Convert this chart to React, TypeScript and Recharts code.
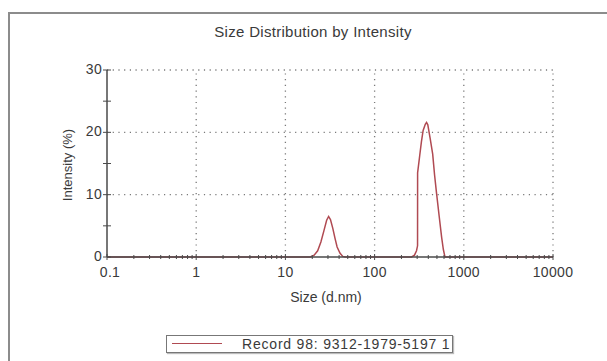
import React from 'react';
import { LineChart, Line, XAxis, YAxis, ReferenceLine } from 'recharts';

const sizes = [0.1, 15, 19, 21, 23, 25, 27, 29, 30.5, 32, 34, 36, 38, 41, 44, 47, 260, 280, 295, 303, 303.5, 320, 335, 350, 370, 382, 395, 420, 448, 470, 495, 530, 564, 590, 615, 10000];
const intensity = [0, 0, 0, 0.3, 1.0, 2.4, 4.2, 5.9, 6.5, 6.0, 4.6, 3.0, 1.6, 0.6, 0.1, 0, 0, 0.3, 1.0, 1.8, 13.5, 16.2, 18.5, 20.3, 21.3, 21.6, 21.2, 19.0, 16.5, 13.2, 10.2, 6.5, 3.2, 1.2, 0, 0];

const xMajorTicks = [0.1, 1, 10, 100, 1000, 10000];
const xMinorTicks = [
  0.2, 0.3, 0.4, 0.5, 0.6, 0.7, 0.8, 0.9,
  2, 3, 4, 5, 6, 7, 8, 9,
  20, 30, 40, 50, 60, 70, 80, 90,
  200, 300, 400, 500, 600, 700, 800, 900,
  2000, 3000, 4000, 5000, 6000, 7000, 8000, 9000,
];
const yMajorTicks = [0, 10, 20, 30];
const yMinorTicks = [5, 15, 25];
const xGrid = [1, 10, 100, 1000, 10000];
const yGrid = [10, 20, 30];

const title = 'Size Distribution by Intensity';
const xLabel = 'Size (d.nm)';
const yLabel = 'Intensity (%)';
const legendLabel = 'Record 98: 9312-1979-5197 1';

const data = sizes.map((s, i) => ({ size: s, value: intensity[i] }));
const allXTicks = [...xMajorTicks, ...xMinorTicks].sort((a, b) => a - b);
const allYTicks = [...yMajorTicks, ...yMinorTicks].sort((a, b) => a - b);

const FONT = '"Liberation Sans", Arial, sans-serif';
const TEXT = '#3a3a3a';
const AXIS = '#4a4a4a';
const LINE = '#b04a52';

const fmtX = (v: number) => (v < 1 ? String(v) : String(Math.round(v)));

const XTick = (props: any) => {
  const { x, y, payload } = props;
  const v = payload.value;
  const major = xMajorTicks.includes(v);
  return (
    <g>
      <line x1={x} x2={x} y1={y - (major ? 3 : 2)} y2={y + (major ? 3 : 2)} stroke={AXIS} strokeWidth={1} />
      {major && (
        <text x={x + (v === 0.1 ? 3 : 0)} y={y + 20} textAnchor="middle" fontSize={14} letterSpacing={0.3} fill={TEXT} fontFamily={FONT}>
          {fmtX(v)}
        </text>
      )}
    </g>
  );
};

const YTick = (props: any) => {
  const { x, y, payload } = props;
  const v = payload.value;
  const major = yMajorTicks.includes(v);
  return (
    <g>
      <line x1={x - 4} x2={x + 4} y1={y} y2={y} stroke={AXIS} strokeWidth={1} />
      {major && (
        <text x={x - 5} y={y + 4} textAnchor="end" fontSize={14} letterSpacing={0.3} fill={TEXT} fontFamily={FONT}>
          {v}
        </text>
      )}
    </g>
  );
};

export default function App() {
  return (
    <div style={{ position: 'absolute', left: 0, top: 0, width: 607, height: 361, background: '#fff', fontFamily: FONT, overflow: 'hidden' }}>
      <div style={{ position: 'absolute', left: 8, top: 12, width: 597, height: 360, borderLeft: '2px solid #8c8c8c', borderTop: '2px solid #8c8c8c', borderRight: '1px solid #e0e0e0' }} />
      <div style={{ position: 'absolute', left: 0, top: 23, width: 626, textAlign: 'center', fontSize: 15, letterSpacing: 0.3, color: TEXT }}>{title}</div>
      <LineChart width={607} height={361} data={data} margin={{ top: 70, right: 54, bottom: 74, left: 67 }} style={{ position: 'absolute', left: 0, top: 0 }}>
        {xGrid.map((g) => (
          <ReferenceLine key={'x' + g} x={g} stroke="#7a7a7a" strokeDasharray="1.2 4.5" strokeWidth={1.3} />
        ))}
        {yGrid.map((g) => (
          <ReferenceLine key={'y' + g} y={g} stroke="#7a7a7a" strokeDasharray="1.2 4.5" strokeWidth={1.3} />
        ))}
        <XAxis
          dataKey="size"
          type="number"
          scale="log"
          domain={[0.1, 10000]}
          allowDataOverflow
          ticks={allXTicks}
          interval={0}
          tickLine={false}
          tickSize={0}
          tickMargin={0}
          tick={<XTick />}
          axisLine={{ stroke: AXIS, strokeWidth: 1.5 }}
          height={30}
        />
        <YAxis
          type="number"
          domain={[0, 30]}
          ticks={allYTicks}
          interval={0}
          tickLine={false}
          tickSize={0}
          tickMargin={0}
          tick={<YTick />}
          axisLine={{ stroke: AXIS, strokeWidth: 1.5 }}
          width={40}
        />
        <Line type="linear" dataKey="value" stroke={LINE} strokeWidth={1.5} dot={false} isAnimationActive={false} />
      </LineChart>
      <div style={{ position: 'absolute', left: 67, top: 165, transform: 'translate(-50%, -50%) rotate(-90deg)', fontSize: 13, color: TEXT, whiteSpace: 'nowrap' }}>{yLabel}</div>
      <div style={{ position: 'absolute', left: 326, top: 289, transform: 'translateX(-50%)', fontSize: 14, color: TEXT, whiteSpace: 'nowrap' }}>{xLabel}</div>
      <div style={{ position: 'absolute', left: 166, top: 335, width: 285, height: 16, border: '1px solid #777', boxShadow: '1px 1px 1px #bbb', overflow: 'hidden', background: '#fff' }}>
        <div style={{ position: 'absolute', left: 5, top: 7, width: 50, height: 0, borderTop: `1.5px solid ${LINE}` }} />
        <div style={{ position: 'absolute', left: 75, top: 0, fontSize: 14, letterSpacing: 0.8, lineHeight: '16px', color: TEXT, whiteSpace: 'nowrap' }}>{legendLabel}</div>
      </div>
    </div>
  );
}
